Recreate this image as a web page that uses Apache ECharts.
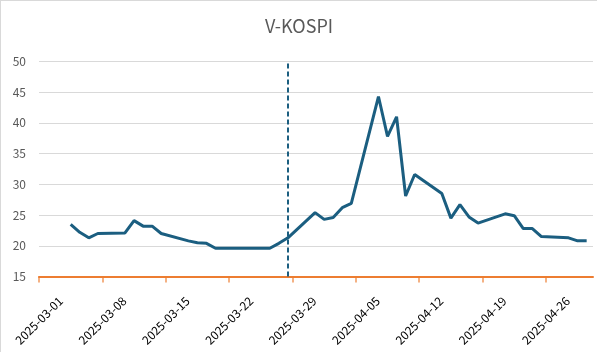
<!DOCTYPE html>
<html><head><meta charset="utf-8">
<script src="https://cdn.jsdelivr.net/npm/echarts@6/dist/echarts.min.js"></script>
<style>
html,body{margin:0;padding:0;background:#fff;}
#c{width:597px;height:352px;box-sizing:border-box;border-left:1px solid #d9d9d9;border-top:1px solid #d9d9d9;}
</style></head>
<body><div id="c"></div>
<script>
const dates = ['2025-03-04','2025-03-05','2025-03-06','2025-03-07','2025-03-10','2025-03-11','2025-03-12','2025-03-13','2025-03-14',
'2025-03-17','2025-03-18','2025-03-19','2025-03-20','2025-03-21','2025-03-24','2025-03-25','2025-03-26','2025-03-27','2025-03-28',
'2025-03-31','2025-04-01','2025-04-02','2025-04-03','2025-04-04','2025-04-07','2025-04-08','2025-04-09','2025-04-10','2025-04-11',
'2025-04-14','2025-04-15','2025-04-16','2025-04-17','2025-04-18','2025-04-21','2025-04-22','2025-04-23','2025-04-24','2025-04-25',
'2025-04-28','2025-04-29','2025-04-30'];
const vkospi = [23.5,22.2,21.3,22.0,22.1,24.1,23.2,23.2,22.0,
20.8,20.5,20.4,19.6,19.6,19.6,19.6,19.6,20.4,21.3,
25.4,24.3,24.6,26.2,26.9,44.3,37.8,41.0,28.1,31.6,
28.5,24.5,26.7,24.7,23.7,25.2,24.9,22.8,22.8,21.5,
21.3,20.8,20.8];
const tickDates = ['2025-03-01','2025-03-08','2025-03-15','2025-03-22','2025-03-29','2025-04-05','2025-04-12','2025-04-19','2025-04-26'];
const yTicks = [15,20,25,30,35,40,45,50];
const eventDate = '2025-03-28';
const axisStart = '2025-03-01';
const axisEnd = '2025-05-02';

const DAY = 86400000;
const t0 = Date.UTC(2025,2,1);
function dayNum(s){const p=s.split('-').map(Number);return (Date.UTC(p[0],p[1]-1,p[2])-t0)/DAY;}
function dayLabel(v){const d=new Date(t0+Math.round(v)*DAY);return d.toISOString().slice(0,10);}

const seriesData = dates.map((d,i)=>[dayNum(d)+0.5, vkospi[i]]);
const tickVals = tickDates.map(dayNum);
const evX = dayNum(eventDate)+0.5;

const chart = echarts.init(document.getElementById('c'));
chart.setOption({
  animation:false,
  title:{text:'V-KOSPI',left:'center',top:11,textStyle:{color:'#595959',fontSize:18,fontWeight:'normal',fontFamily:'Noto Sans CJK KR'}},
  grid:{left:38,right:4,top:60.5,bottom:75.5,containLabel:false},
  xAxis:{type:'value',min:dayNum(axisStart),max:dayNum(axisEnd)-0.8,interval:7,
    axisLine:{show:true,onZero:false,lineStyle:{color:'#ed7d31',width:2}},
    axisTick:{show:true,inside:false,length:6,lineStyle:{color:'#ed7d31',width:2,opacity:0.6}},
    splitLine:{show:false},
    axisLabel:{showMaxLabel:false,formatter:v=>tickVals.includes(v)?dayLabel(v):'',rotate:45,align:'center',verticalAlign:'middle',margin:44,
      color:'#000',fontSize:12,fontFamily:'Noto Sans CJK KR'}},
  yAxis:{type:'value',min:yTicks[0],max:yTicks[yTicks.length-1],interval:5,
    axisLine:{show:false},axisTick:{show:false},
    splitLine:{lineStyle:{color:'#d9d9d9',width:1}},
    axisLabel:{color:'#595959',fontSize:12,margin:13,fontFamily:'Noto Sans CJK KR'}},
  series:[{type:'line',data:seriesData,symbol:'none',lineStyle:{color:'#1b5e80',width:3},itemStyle:{color:'#1b5e80'},
    markLine:{silent:true,symbol:'none',label:{show:false},
      lineStyle:{color:'#1b5e80',width:2,type:[5,3]},
      data:[{xAxis:evX}]}}]
});
</script></body></html>
